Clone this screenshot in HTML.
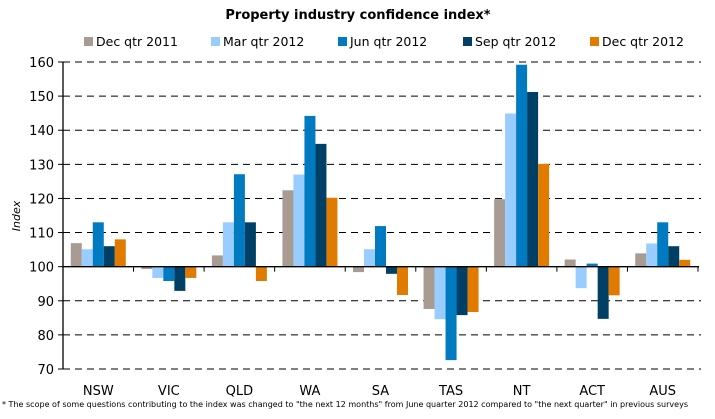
<!DOCTYPE html>
<html><head><meta charset="utf-8"><style>
body{margin:0;background:#fff;}
svg{display:block;font-family:"DejaVu Sans","Liberation Sans",sans-serif;}
</style></head><body>
<svg id="chart" width="715" height="419">
<text x="358" y="19" text-anchor="middle" font-size="13" font-weight="bold">Property industry confidence index*</text>
<g id="legend"></g>
<g id="grid"></g>
<g id="bars"></g>
<g id="axes"></g>
<text transform="translate(20,216) rotate(-90)" text-anchor="middle" font-size="11" font-style="italic">Index</text>
<text x="2" y="407" font-size="8" textLength="686" lengthAdjust="spacingAndGlyphs">* The scope of some questions contributing to the index was changed to "the next 12 months" from June quarter 2012 compared to "the next quarter" in previous surveys</text>
</svg>
<script>
const categories=["NSW","VIC","QLD","WA","SA","TAS","NT","ACT","AUS"];
const seriesNames=["Dec qtr 2011","Mar qtr 2012","Jun qtr 2012","Sep qtr 2012","Dec qtr 2012"];
const dec2011=[106.9,99.3,103.3,122.4,98.4,87.6,119.8,102.1,103.9];
const mar2012=[105.1,96.7,113,127,105.1,84.6,144.9,93.7,106.8];
const jun2012=[113,95.8,127.1,144.2,111.9,72.6,159.2,100.9,113];
const sep2012=[106,92.9,113,136,97.9,85.8,151.2,84.7,106];
const dec2012=[108,96.7,95.8,120.2,91.7,86.7,130.1,91.6,102];
const yTicks=[70,80,90,100,110,120,130,140,150,160];
const colors=["#a89c92","#99ccff","#007ac0","#003f66","#e07b00"];
const series=[dec2011,mar2012,jun2012,sep2012,dec2012];
const NS="http://www.w3.org/2000/svg";
const x0=63,x1=698,yTop=62,yBot=369,yMin=70,yMax=160;
const y=v=>yBot-(v-yMin)/(yMax-yMin)*(yBot-yTop);
const catW=(x1-x0)/categories.length;
const bw=11;
function mk(t,a,p){const e=document.createElementNS(NS,t);for(const k in a)e.setAttribute(k,a[k]);p.appendChild(e);return e;}
const grid=document.getElementById('grid'),axes=document.getElementById('axes'),bars=document.getElementById('bars'),legend=document.getElementById('legend');
yTicks.forEach(v=>{
  if(v!==100){const l=mk('line',{x1:x0,x2:x1+3,y1:y(v),y2:y(v),stroke:'#000','stroke-width':1,'stroke-dasharray':'7,5'},grid);
  
  }
  const tk=mk('line',{x1:x0-5,x2:x0,y1:y(v),y2:y(v),stroke:'#000'},axes);
  
  
  const t=mk('text',{x:x0-9,y:y(v)+5,'text-anchor':'end','font-size':13},axes);t.textContent=v;
  
  
});
series.forEach((s,si)=>{s.forEach((v,ci)=>{
  const bx=x0+ci*catW+(catW-5*bw)/2+si*bw;
  const r=mk('rect',{x:bx,y:Math.min(y(v),y(100)),width:bw,height:Math.abs(y(v)-y(100)),fill:colors[si]},bars);
  
  
});});
const ya=mk('line',{x1:x0,x2:x0,y1:yTop,y2:yBot,stroke:'#000','stroke-width':1.3},axes);


const xa=mk('line',{x1:x0,x2:x1+1,y1:y(100),y2:y(100),stroke:'#000','stroke-width':1.3},axes);


categories.forEach((c,i)=>{
  const tx=x0+(i+1)*catW;
  const tk=mk('line',{x1:tx,x2:tx,y1:y(100),y2:y(100)+5,stroke:'#000'},axes);
  
  
  const t=mk('text',{x:x0+(i+0.5)*catW,y:395,'text-anchor':'middle','font-size':13},axes);t.textContent=c;
  
  
});
const lx=[84,211,338,463,590];
seriesNames.forEach((n,i)=>{
  const g=mk('g',{},legend);
  
  
  mk('rect',{x:lx[i],y:37,width:9,height:9,fill:colors[i]},g);
  const t=mk('text',{x:lx[i]+12,y:46,'font-size':12.5},g);t.textContent=n;
});
</script>
</body></html>
